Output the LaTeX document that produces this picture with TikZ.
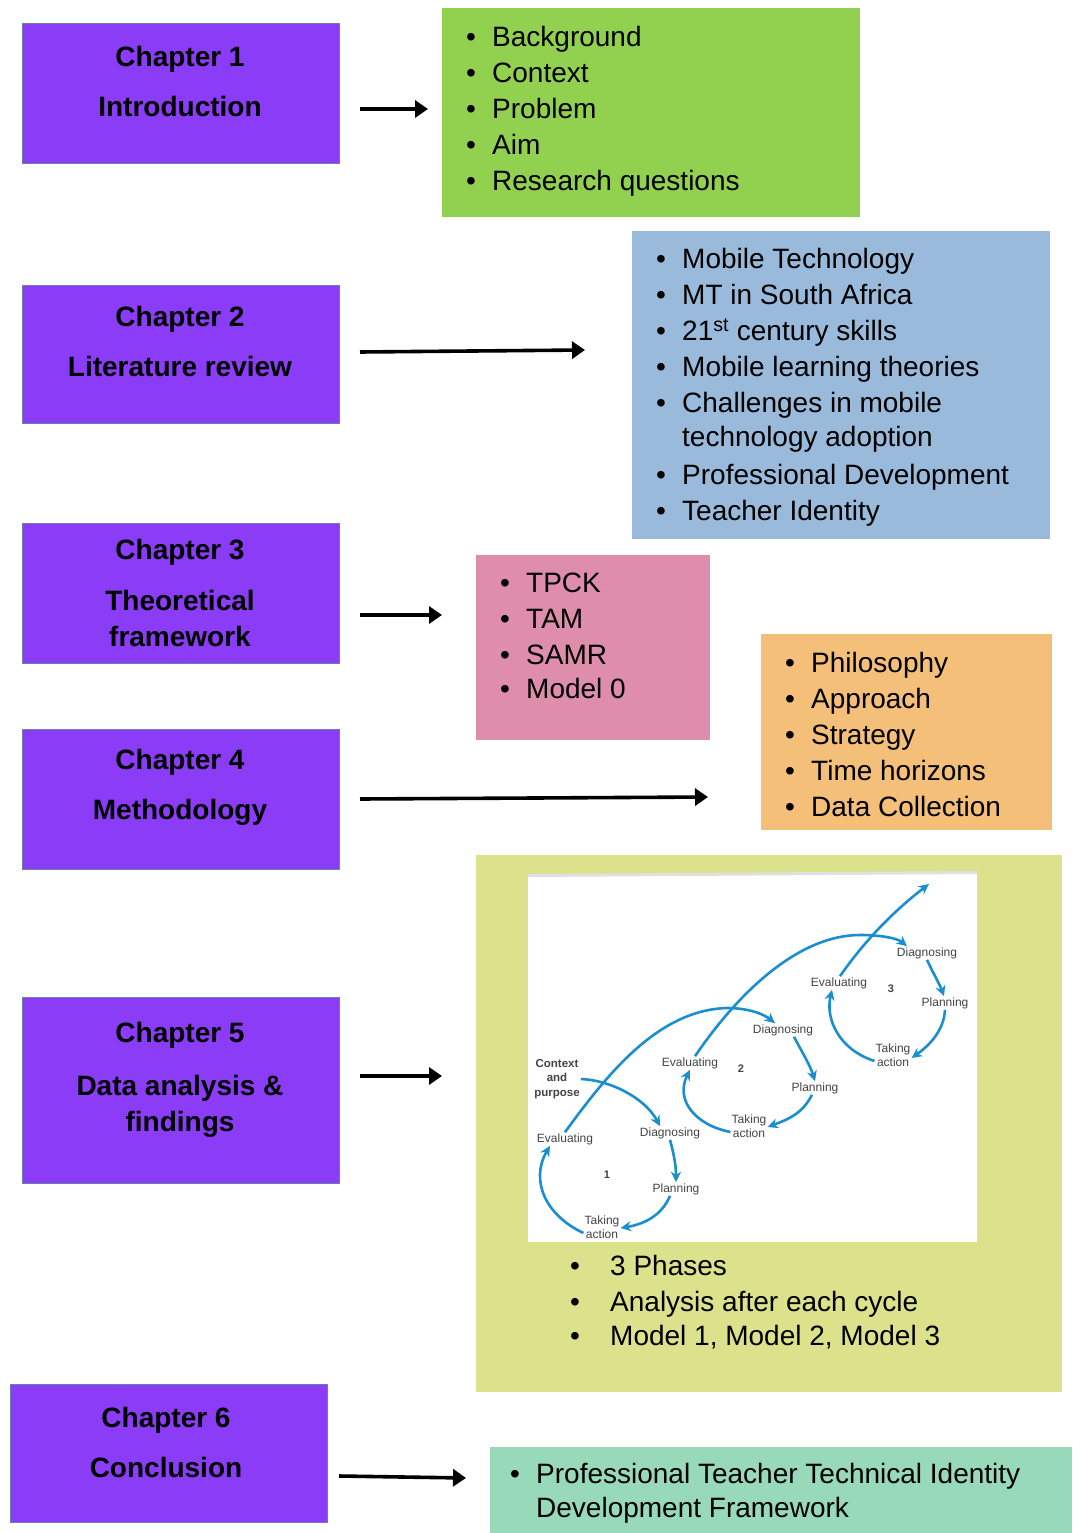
\documentclass[tikz,border=0pt]{standalone}
\usepackage{fontspec}
\setmainfont{Liberation Sans}
\usetikzlibrary{arrows.meta}
\definecolor{chapfill}{HTML}{8B3CF6}
\definecolor{chapedge}{HTML}{6B7FA8}
\definecolor{boxgreen}{HTML}{92D050}
\definecolor{boxblue}{HTML}{9ABADB}
\definecolor{boxpink}{HTML}{DE8DAB}
\definecolor{boxorange}{HTML}{F4BF79}
\definecolor{boxolive}{HTML}{DCE18B}
\definecolor{boxteal}{HTML}{97D9B9}
\definecolor{cycblue}{HTML}{1B8ECF}
\definecolor{cyctext}{HTML}{444444}
% bullet item: bullet, then text at a fixed indent
\newcommand{\itm}[2][26pt]{\makebox[#1][l]{\textbullet}#2}
\begin{document}
\begin{tikzpicture}[x=1pt,y=-1pt,
  chapbox/.style={draw=chapedge,line width=0.8pt,fill=chapfill,minimum width=317pt,
    minimum height=140pt,anchor=north west,inner sep=0pt},
  chaptext/.style={align=center,inner sep=0pt,font=\bfseries\fontsize{28}{36}\selectfont},
  listbox/.style={anchor=north west,inner sep=0pt},
  listtext/.style={anchor=north west,inner sep=0pt,align=left,font=\fontsize{28}{36}\selectfont},
  bigarrow/.style={line width=3.6pt,-{Triangle[length=13pt,width=17pt]}},
  cyclabel/.style={inner sep=1pt,align=center,text=cyctext,font=\fontsize{12}{14.5}\selectfont},
  cyc/.style={draw=cycblue,line width=2.6pt,-{Stealth[length=10.5pt,width=10pt]}}]
\useasboundingbox[fill=white] (0,0) rectangle (1072,1533);

% ---- chapter boxes ----
\node[chapbox] (c1) at (22,23) {};
\node[chaptext] (c1t) at (180,81) {Chapter 1\\[14pt]Introduction};
\node[chapbox,minimum height=138pt] (c2) at (22,285) {};
\node[chaptext] (c2t) at (180,341) {Chapter 2\\[14pt]Literature review};
\node[chapbox] (c3) at (22,523) {};
\node[chaptext] (c3t) at (180,593) {Chapter 3\\[15pt]Theoretical\\framework};
\node[chapbox] (c4) at (22,729) {};
\node[chaptext] (c4t) at (180,787) {Chapter 4\\[14pt]Methodology};
\node[chapbox,minimum height=186pt] (c5) at (22,997) {};
\node[chaptext] (c5t) at (180,1080) {Chapter 5\\[17pt]Data analysis \&\\findings};
\node[chapbox,minimum height=138pt] (c6) at (10,1384) {};
\node[chaptext] (c6t) at (166,1442) {Chapter 6\\[14pt]Conclusion};

% ---- content boxes ----
\node[listbox,fill=boxgreen,minimum width=418pt,minimum height=209pt] (b1) at (442,8) {};
\node[listtext] (b1t) at (466,26.5) {\itm{Background}\\\itm{Context}\\\itm{Problem}\\\itm{Aim}\\\itm{Research questions}};

\node[listbox,fill=boxblue,minimum width=418pt,minimum height=308pt] (b2) at (632,231) {};
\node[listtext] (b2t) at (656,248.5) {\itm{Mobile Technology}\\\itm{MT in South Africa}\\
  \itm{21\textsuperscript{st} century skills}\\\itm{Mobile learning theories}\\
  \itm{Challenges in mobile}\\[-2pt]\hspace*{26pt}technology adoption\\[2pt]
  \itm{Professional Development}\\\itm{Teacher Identity}};

\node[listbox,fill=boxpink,minimum width=234pt,minimum height=185pt] (b3) at (476,555) {};
\node[listtext] (b3t) at (500,572.5) {\itm{TPCK}\\\itm{TAM}\\\itm{SAMR}\\[-2pt]\itm{Model 0}};

\node[listbox,fill=boxorange,minimum width=291pt,minimum height=196pt] (b4) at (761,634) {};
\node[listtext] (b4t) at (785,652.5) {\itm{Philosophy}\\\itm{Approach}\\\itm{Strategy}\\\itm{Time horizons}\\\itm{Data Collection}};

\node[listbox,fill=boxolive,minimum width=586pt,minimum height=537pt] (b5) at (476,855) {};
\node[listbox,fill=white,minimum width=449pt,minimum height=368pt] (img) at (528,874) {};
\draw[black!12,line width=3pt] (img.north west) ++(0,1.5) -- ([yshift=1.5pt]img.north east);
\node[listtext] (b5t) at (570,1254.5) {\itm[40pt]{3 Phases}\\\itm[40pt]{Analysis after each cycle}\\[-2pt]\itm[40pt]{Model 1, Model 2, Model 3}};

\node[listbox,fill=boxteal,minimum width=582pt,minimum height=86pt] (b6) at (490,1447) {};
\node[listtext] (b6t) at (510,1462.5) {\itm{Professional Teacher Technical Identity}\\[-2pt]\hspace*{26pt}Development Framework};

% ---- chapter-to-content arrows ----
\coordinate (s1) at (360,109); \coordinate (e1a) at (428,109);
\coordinate (s2) at (360,352); \coordinate (e2a) at (585,350);
\coordinate (s3) at (360,615); \coordinate (e3a) at (442,615);
\coordinate (s4) at (360,799); \coordinate (e4a) at (708,797);
\coordinate (s5) at (360,1076); \coordinate (e5a) at (442,1076);
\coordinate (s6) at (339,1476); \coordinate (e6a) at (466,1478);
\draw[bigarrow] (s1) -- (e1a);
\draw[bigarrow] (s2) -- (e2a);
\draw[bigarrow] (s3) -- (e3a);
\draw[bigarrow] (s4) -- (e4a);
\draw[bigarrow] (s5) -- (e5a);
\draw[bigarrow] (s6) -- (e6a);

% ---- action research spiral ----
\node[cyclabel,font=\bfseries\fontsize{11.5}{14.5}\selectfont] (cp) at (557,1079) {Context\\and\\purpose};
\node[cyclabel] (ev1) at (565,1139) {Evaluating};
\node[cyclabel] (dg1) at (670,1133) {Diagnosing};
\node[cyclabel,font=\bfseries\fontsize{11}{14}\selectfont] (n1) at (607,1175) {1};
\node[cyclabel] (pl1) at (676,1189) {Planning};
\node[cyclabel] (ta1) at (602,1227) {Taking\\action};

\node[cyclabel] (ev2) at (690,1063) {Evaluating};
\node[cyclabel,font=\bfseries\fontsize{11}{14}\selectfont] (n2) at (741,1069) {2};
\node[cyclabel] (dg2) at (783,1030) {Diagnosing};
\node[cyclabel] (pl2) at (815,1088) {Planning};
\node[cyclabel] (ta2) at (749,1126) {Taking\\action};

\node[cyclabel] (ev3) at (839,983) {Evaluating};
\node[cyclabel,font=\bfseries\fontsize{11}{14}\selectfont] (n3) at (891,989) {3};
\node[cyclabel] (dg3) at (927,953) {Diagnosing};
\node[cyclabel] (pl3) at (945,1003) {Planning};
\node[cyclabel] (ta3) at (893,1055) {Taking\\action};
\coordinate (onward) at (929,884);

% cycle 1
\draw[cyc] (cp.east) .. controls (610,1080) and (645,1098) .. ([xshift=-10pt]dg1.north);
\draw[cyc] (dg1.south) .. controls (674,1155) and (676,1165) .. (pl1.north);
\draw[cyc] ([xshift=-6pt]pl1.south) .. controls (662,1215) and (645,1224) .. ([yshift=-1pt]ta1.east);
\draw[cyc] ([yshift=-6pt]ta1.west) .. controls (545,1215) and (530,1180) .. ([xshift=-15pt]ev1.south);
% rising arc into cycle 2
\draw[cyc] (ev1.north) .. controls (610,1070) and (660,1010) .. (727,1008)
  .. controls (750,1008) and (765,1015) .. ([xshift=-8pt]dg2.north);
% cycle 2
\draw[cyc] ([xshift=11pt]dg2.south) .. controls (802,1052) and (810,1065) .. (pl2.north);
\draw[cyc] ([xshift=-3pt]pl2.south) .. controls (803,1112) and (792,1118) .. ([yshift=-1pt]ta2.east);
\draw[cyc] ([yshift=-6pt]ta2.west) .. controls (695,1125) and (675,1100) .. ([xshift=0pt]ev2.south);
% rising arc into cycle 3
\draw[cyc] ([xshift=5pt]ev2.north) .. controls (740,990) and (800,935) .. (860,935)
  .. controls (880,935) and (897,938) .. ([xshift=-20pt]dg3.north);
% cycle 3
\draw[cyc] (dg3.south) .. controls (934,975) and (940,985) .. ([xshift=-1pt]pl3.north);
\draw[cyc] (pl3.south) .. controls (944,1030) and (930,1045) .. ([yshift=-3pt]ta3.east);
\draw[cyc] ([yshift=-6pt]ta3.west) .. controls (840,1050) and (825,1020) .. ([xshift=-7pt]ev3.south);
% onward arrow out of cycle 3
\draw[cyc] ([xshift=1pt]ev3.north) .. controls (865,940) and (895,910) .. (onward);
\end{tikzpicture}
\end{document}
